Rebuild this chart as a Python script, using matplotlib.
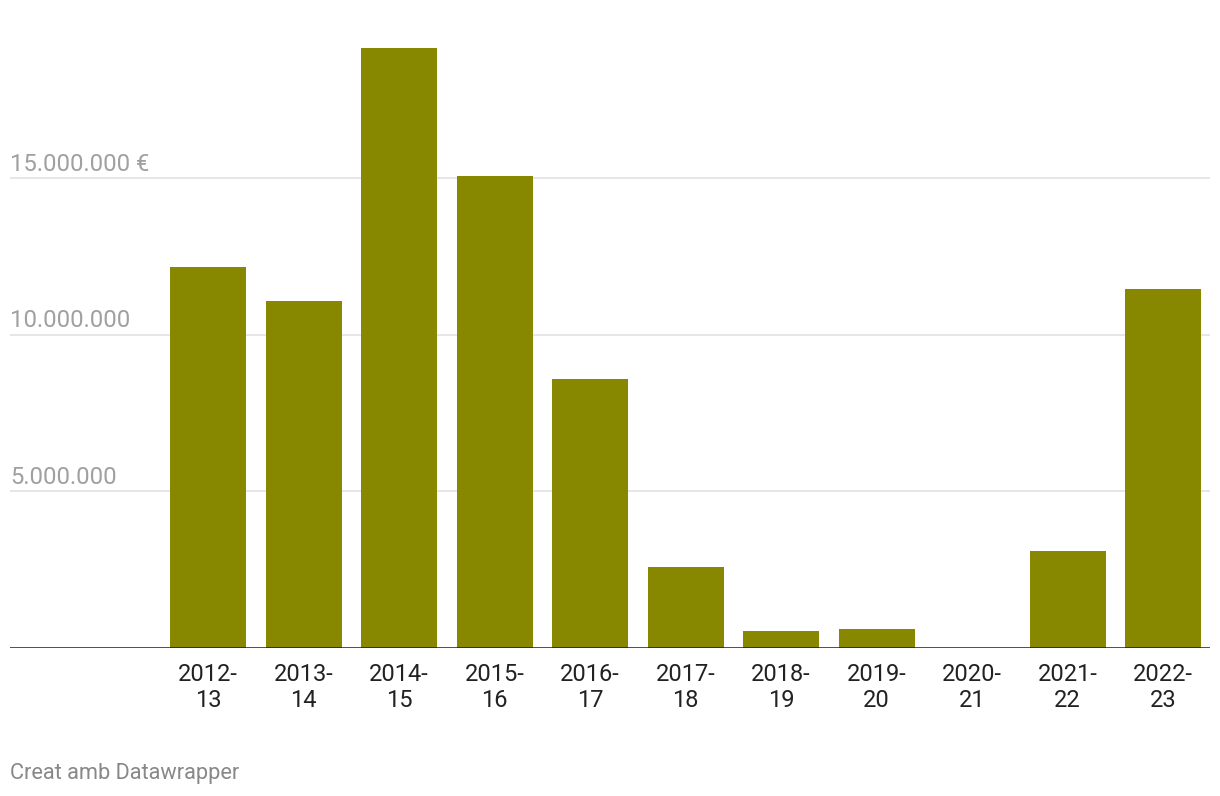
import numpy as np
import matplotlib
matplotlib.use("Agg")
import matplotlib.pyplot as plt

seasons = ["2012-\n13", "2013-\n14", "2014-\n15", "2015-\n16", "2016-\n17", "2017-\n18",
           "2018-\n19", "2019-\n20", "2020-\n21", "2021-\n22", "2022-\n23"]
values = [12170000, 11090000, 19170000, 15080000, 8590000, 2590000,
          540000, 610000, 0, 3100000, 11470000]
y_ticks = [5000000, 10000000, 15000000]
y_labels = ["5.000.000", "10.000.000", "15.000.000 €"]

plt.rcParams["font.family"] = ["Roboto", "DejaVu Sans"]

W, H = 1220, 796
fig = plt.figure(figsize=(W / 100, H / 100), dpi=100)
ax = fig.add_axes([10 / W, (H - 648) / H, 1200 / W, 628 / H])

x = np.arange(len(values))
ax.bar(x, values, width=0.796, color="#878800", zorder=2)

ax.set_xlim(-2.073, 10.49)
ax.set_ylim(0, 20060000)

for t, lab in zip(y_ticks, y_labels):
    ax.axhline(t, color="#e2e2e2", linewidth=1.2, zorder=1)
    ax.annotate(lab, xy=(0, t), xycoords=ax.get_yaxis_transform(),
                xytext=(0, 2), textcoords="offset points",
                ha="left", va="bottom", fontsize=17.2, color="#a0a0a0")
ax.axhline(0, color="#1a1a1a", linewidth=1.8, zorder=3)

ax.set_xticks(x)
ax.set_xticklabels(seasons, fontsize=17, color="#222222", linespacing=1.2)
ax.tick_params(axis="x", length=0, pad=10.5)
ax.set_yticks([])
for s in ax.spines.values():
    s.set_visible(False)

fig.text(10 / W, 1 - 774 / H, "Creat amb Datawrapper", ha="left", va="center",
         fontsize=15.7, color="#888888")

fig.savefig("out.png", dpi=100)
plt.close()
